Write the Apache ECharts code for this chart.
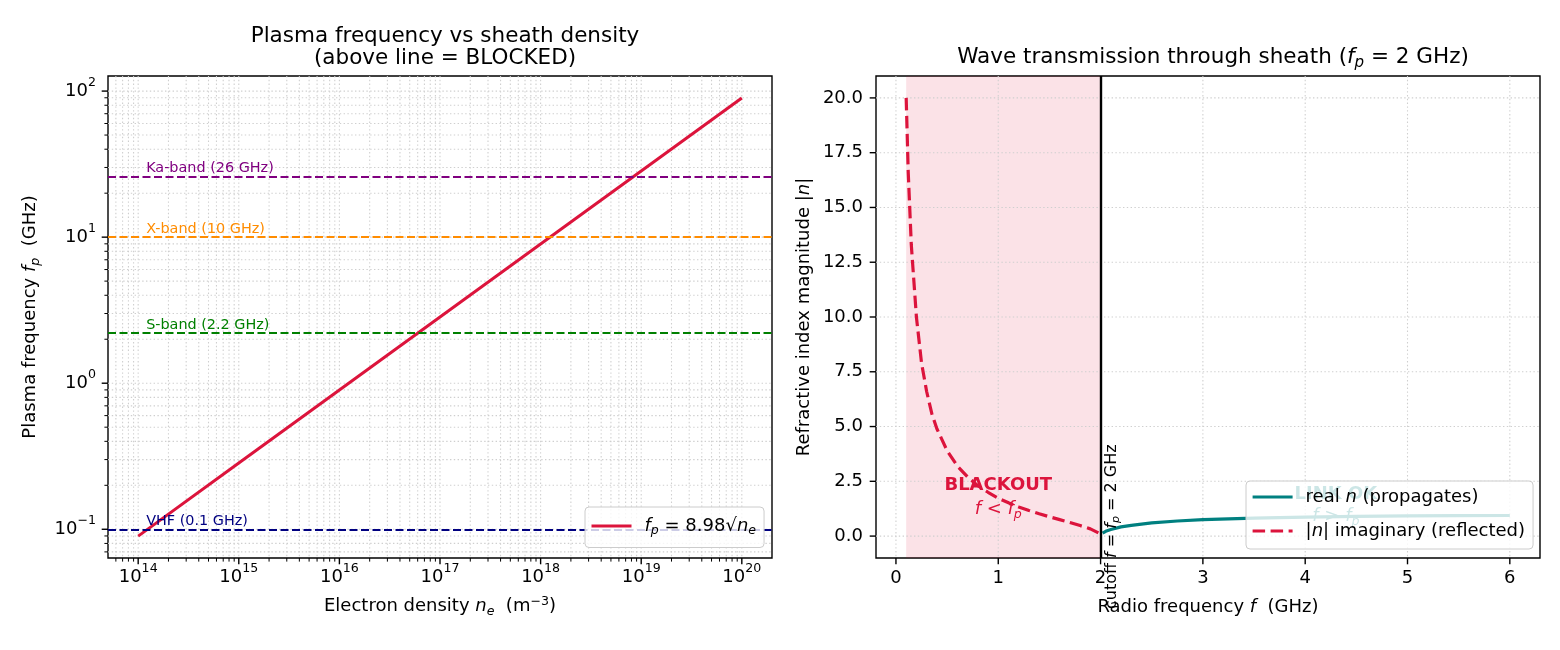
<!DOCTYPE html>
<html>
<head>
<meta charset="utf-8">
<script src="https://cdn.jsdelivr.net/npm/echarts@6.0.0/dist/echarts.min.js"></script>
<style>
html,body{margin:0;padding:0;background:#ffffff;}
#chart{width:1560px;height:650px;}
</style>
</head>
<body>
<div id="chart"></div>
<script>
// ---------------- data ----------------
const densityNe = [1e14, 1e15, 1e16, 1e17, 1e18, 1e19, 1e20];
const plasmaFreqGHz = [0.0898, 0.284, 0.898, 2.84, 8.98, 28.4, 89.8];

const bandNames = ['Ka-band (26 GHz)', 'X-band (10 GHz)', 'S-band (2.2 GHz)', 'VHF (0.1 GHz)'];
const bandFreqGHz = [26, 10, 2.2, 0.1];
const bandColors = ['#800080', '#ff8c00', '#008000', '#000080'];
const bandLabelNe = 1.2e14;

const freqReflected = [0.10, 0.12, 0.15, 0.20, 0.25, 0.30, 0.35, 0.40, 0.50, 0.60, 0.70, 0.80, 0.90, 1.00, 1.10, 1.20, 1.30, 1.40, 1.50, 1.60, 1.70, 1.80, 1.90, 1.98];
const nImaginary    = [20.0, 16.6, 13.3, 10.0, 7.9, 6.6, 5.6, 4.9, 3.9, 3.2, 2.7, 2.3, 2.0, 1.73, 1.52, 1.33, 1.17, 1.02, 0.88, 0.75, 0.62, 0.48, 0.33, 0.14];
const freqPropagating = [2.02, 2.05, 2.10, 2.20, 2.30, 2.50, 2.75, 3.00, 3.50, 4.00, 4.50, 5.00, 5.50, 6.00];
const nReal           = [0.14, 0.22, 0.30, 0.42, 0.49, 0.60, 0.69, 0.75, 0.82, 0.87, 0.90, 0.92, 0.93, 0.94];
const plasmaCutoffGHz = 2;
const blackoutStartGHz = 0.1;

// tick labels
const leftXDecades = [14, 15, 16, 17, 18, 19, 20];
const leftYDecades = [-1, 0, 1, 2];
const rightXTicks = [0, 1, 2, 3, 4, 5, 6];
const rightYTicks = [0, 2.5, 5, 7.5, 10, 12.5, 15, 17.5, 20];

// ---------------- styling ----------------
const FONT = 'DejaVu Sans';
const CRIMSON = '#dc143c';
const TEAL = '#008080';
const GRID_COLOR = '#cfcfcf';

const LX_MIN = Math.pow(10, 13.7), LX_MAX = Math.pow(10, 20.3);
const LY_MIN = Math.pow(10, -1.1967), LY_MAX = Math.pow(10, 2.1033);
const RX_MIN = -0.195, RX_MAX = 6.295;
const RY_MIN = -1, RY_MAX = 21;

function rich(size, color) {
  color = color || '#000';
  const lh = Math.round(size * 1.25);
  return {
    t: {fontSize: size, fontFamily: FONT, color: color, lineHeight: lh},
    b: {fontSize: size, fontFamily: FONT, color: color, lineHeight: lh, fontWeight: 'bold'},
    i: {fontSize: size, fontFamily: FONT, color: color, lineHeight: lh, fontStyle: 'italic'},
    sub: {fontSize: size * 0.7, fontFamily: FONT, color: color, fontStyle: 'italic', lineHeight: Math.round(size * 0.75), verticalAlign: 'bottom'},
    sup: {fontSize: size * 0.7, fontFamily: FONT, color: color, lineHeight: Math.round(size * 0.75), verticalAlign: 'top'},
    sp: {width: 8, lineHeight: lh}
  };
}

function minorValues(d0, d1, lo, hi) {
  const out = [];
  for (let d = d0; d <= d1; d++) for (let k = 2; k <= 9; k++) {
    const v = k * Math.pow(10, d);
    if (v >= lo && v <= hi) out.push(v);
  }
  return out;
}

function logLabel(v) {
  const e = Math.log10(v);
  const r = Math.round(e);
  if (Math.abs(e - r) > 1e-6) return '';
  return '{m|10}{s|' + (r < 0 ? '\u2212' : '') + Math.abs(r) + '}';
}
const logRich = {
  m: {fontSize: 18, fontFamily: FONT, color: '#000', lineHeight: 30},
  s: {fontSize: 12.6, fontFamily: FONT, color: '#000', lineHeight: 14, verticalAlign: 'top'}
};

function tickRenderer(dir) {
  return function (params, api) {
    const cs = params.coordSys;
    const p = api.coord([api.value(0), api.value(1)]);
    const len = api.value(2);
    const drawGrid = api.value(3) > 0;
    const lw = len > 5 ? 1.4 : 1.0;
    const children = [];
    if (dir === 'x') {
      const x = p[0];
      const b = cs.y + cs.height;
      if (drawGrid) children.push({type: 'line', silent: true, shape: {x1: x, y1: cs.y, x2: x, y2: b}, style: {stroke: GRID_COLOR, lineWidth: 1.1, lineDash: [1.4, 2.4]}});
      children.push({type: 'line', silent: true, shape: {x1: x, y1: b, x2: x, y2: b + len}, style: {stroke: '#000', lineWidth: lw}});
    } else {
      const y = p[1];
      const l = cs.x;
      if (drawGrid) children.push({type: 'line', silent: true, shape: {x1: l, y1: y, x2: l + cs.width, y2: y}, style: {stroke: GRID_COLOR, lineWidth: 1.1, lineDash: [1.4, 2.4]}});
      children.push({type: 'line', silent: true, shape: {x1: l - len, y1: y, x2: l, y2: y}, style: {stroke: '#000', lineWidth: lw}});
    }
    return {type: 'group', children: children};
  };
}

function tickSeries(dir, gridIdx, values, cross, len) {
  return {
    type: 'custom', xAxisIndex: gridIdx, yAxisIndex: gridIdx, z: 1, silent: true,
    renderItem: tickRenderer(dir), clip: false,
    encode: {x: 0, y: 1},
    data: values.map(v => dir === 'x' ? [v, cross, len, 1] : [cross, v, len, 1])
  };
}

const leftXMajor = leftXDecades.map(d => Math.pow(10, d));
const leftYMajor = leftYDecades.map(d => Math.pow(10, d));
const leftXMinor = minorValues(13, 20, LX_MIN, LX_MAX);
const leftYMinor = minorValues(-2, 2, LY_MIN, LY_MAX);

const chart = echarts.init(document.getElementById('chart'), null, {renderer: 'canvas'});

const legendCommon = {
  orient: 'vertical', z: 20, zlevel: 0,
  itemWidth: 40, itemHeight: 14,
  backgroundColor: 'rgba(255,255,255,0.8)', borderColor: '#cccccc', borderWidth: 1, borderRadius: 4,
  itemStyle: {opacity: 0, borderWidth: 0},
  textStyle: {fontSize: 18, color: '#000', rich: rich(18)},
  selectedMode: false
};

const option = {
  animation: false,
  backgroundColor: '#ffffff',
  textStyle: {fontFamily: FONT},
  title: [
    {
      text: 'Plasma frequency vs sheath density\n(above line = BLOCKED)',
      left: 440, top: 20, textAlign: 'center',
      textStyle: {fontFamily: FONT, fontSize: 21.5, fontWeight: 'normal', color: '#000', lineHeight: 22}
    },
    {
      text: '{t|Wave transmission through sheath (}{i|f}{sub|p}{t| = 2 GHz)}',
      left: 1208, top: 39, textAlign: 'center',
      textStyle: {fontFamily: FONT, fontSize: 21.5, fontWeight: 'normal', color: '#000', rich: rich(21.5)}
    }
  ],
  grid: [
    {left: 108, top: 76, width: 664, height: 482, show: true, borderColor: '#000', borderWidth: 1.4, backgroundColor: 'transparent'},
    {left: 876, top: 76, width: 664, height: 482, show: true, borderColor: '#000', borderWidth: 1.4, backgroundColor: 'transparent'}
  ],
  xAxis: [
    {
      type: 'log', logBase: 10, gridIndex: 0, min: LX_MIN, max: LX_MAX,
      axisLine: {show: false}, axisTick: {show: false}, splitLine: {show: false}, minorTick: {show: false},
      axisLabel: {formatter: logLabel, rich: logRich, margin: 4, color: '#000'},
      name: '{t|Electron density }{i|n}{sub|e}{t|  (m}{sup|\u22123}{t|)}', nameLocation: 'middle', nameGap: 37,
      nameTextStyle: {rich: rich(18), fontSize: 18, color: '#000'}
    },
    {
      type: 'value', gridIndex: 1, min: RX_MIN, max: RX_MAX,
      axisLine: {show: false}, axisTick: {show: false}, splitLine: {show: false},
      axisLabel: {customValues: rightXTicks, formatter: v => String(v), fontSize: 18, fontFamily: FONT, color: '#000', margin: 10, lineHeight: 20},
      name: '{t|Radio frequency }{i|f}{t|  (GHz)}', nameLocation: 'middle', nameGap: 38,
      nameTextStyle: {rich: rich(18), fontSize: 18, color: '#000'}
    }
  ],
  yAxis: [
    {
      type: 'log', logBase: 10, gridIndex: 0, min: LY_MIN, max: LY_MAX,
      axisLine: {show: false}, axisTick: {show: false}, splitLine: {show: false}, minorTick: {show: false},
      axisLabel: {formatter: logLabel, rich: logRich, margin: 12, color: '#000'},
      name: '{t|Plasma frequency }{i|f}{sub|p}{t|  (GHz)}', nameLocation: 'middle', nameGap: 66, nameRotate: 90,
      nameTextStyle: {rich: rich(18), fontSize: 18, color: '#000'}
    },
    {
      type: 'value', gridIndex: 1, min: RY_MIN, max: RY_MAX,
      axisLine: {show: false}, axisTick: {show: false}, splitLine: {show: false},
      axisLabel: {customValues: rightYTicks, formatter: v => v.toFixed(1), fontSize: 18, fontFamily: FONT, color: '#000', margin: 13},
      name: '{t|Refractive index magnitude |}{i|n}{t||}', nameLocation: 'middle', nameGap: 60, nameRotate: 90,
      nameTextStyle: {rich: rich(18), fontSize: 18, color: '#000'}
    }
  ],
  legend: [
    Object.assign({}, legendCommon, {
      data: ['fp'], left: 585, top: 507, padding: [10, 8, 10, 5],
      lineStyle: {width: 3},
      formatter: () => '{sp|}{i|f}{sub|p}{t| = 8.98\u221a}{i|n}{sub|e}'
    }),
    Object.assign({}, legendCommon, {
      data: ['real', 'imag'], left: 1246, top: 481, itemGap: 16, padding: [7, 8, 9, 5],
      lineStyle: {width: 3.2},
      formatter: name => name === 'real' ? '{sp|}{t|real }{i|n}{t| (propagates)}' : '{sp|}{t||}{i|n}{t|| imaginary (reflected)}'
    })
  ],
  series: [
    // ---- left panel: ticks + grid lines ----
    tickSeries('x', 0, leftXMajor, 1, 6.3),
    tickSeries('x', 0, leftXMinor, 1, 3.6),
    tickSeries('y', 0, leftYMajor, 1e17, 6.3),
    tickSeries('y', 0, leftYMinor, 1e17, 3.6),
    // band reference lines and labels
    {
      name: 'bands', type: 'line', xAxisIndex: 0, yAxisIndex: 0, data: [], z: 2, silent: true,
      markLine: {
        silent: true, symbol: 'none', animation: false,
        label: {show: false},
        data: bandFreqGHz.map((f, i) => ({yAxis: f, lineStyle: {color: bandColors[i], type: [8, 3.5], width: 2.1}}))
      },
      markPoint: {
        silent: true, symbol: 'circle', symbolSize: 0, animation: false,
        data: bandFreqGHz.map((f, i) => ({
          coord: [bandLabelNe, f], itemStyle: {color: 'transparent'},
          label: {show: true, position: 'right', distance: 0, offset: [0, -8], formatter: bandNames[i], color: bandColors[i], fontSize: 14.4, fontFamily: FONT}
        }))
      }
    },
    {
      name: 'fp', type: 'line', xAxisIndex: 0, yAxisIndex: 0, z: 3, silent: true,
      symbol: 'none', showSymbol: false,
      lineStyle: {color: CRIMSON, width: 3},
      itemStyle: {color: CRIMSON},
      data: densityNe.map((n, i) => [n, plasmaFreqGHz[i]])
    },
    // ---- right panel ----
    tickSeries('x', 1, rightXTicks, 10, 6.3),
    tickSeries('y', 1, rightYTicks, 3, 6.3),
    {
      name: 'imag', type: 'line', xAxisIndex: 1, yAxisIndex: 1, z: 3, silent: true,
      symbol: 'none', showSymbol: false,
      lineStyle: {color: CRIMSON, width: 3.2, type: [12.5, 5.5]},
      itemStyle: {color: CRIMSON},
      data: freqReflected.map((f, i) => [f, nImaginary[i]]),
      markArea: {
        silent: true,
        itemStyle: {color: 'rgba(220,20,60,0.12)'},
        data: [[{xAxis: blackoutStartGHz}, {xAxis: plasmaCutoffGHz}]]
      },
      markLine: {
        silent: true, symbol: 'none', animation: false,
        label: {show: false},
        lineStyle: {color: '#000', type: 'solid', width: 2.4},
        data: [{xAxis: plasmaCutoffGHz}]
      },
      markPoint: {
        silent: true, symbol: 'circle', symbolSize: 0, animation: false,
        itemStyle: {color: 'transparent'},
        data: [
          {coord: [1.0, 2.3], label: {show: true, position: 'inside', formatter: 'BLACKOUT', color: CRIMSON, fontWeight: 'bold', fontSize: 18, fontFamily: FONT}},
          {coord: [1.0, 1.2], label: {show: true, position: 'inside', formatter: '{i|f}{t| < }{i|f}{sub|p}', rich: rich(18, CRIMSON)}},
          {coord: [2.107, 0.43], label: {show: true, position: 'inside', rotate: 90, formatter: '{t|cutoff }{i|f}{t| = }{i|f}{sub|p}{t| = 2 GHz}', rich: rich(16, '#000')}}
        ]
      }
    },
    {
      name: 'real', type: 'line', xAxisIndex: 1, yAxisIndex: 1, z: 3, silent: true,
      symbol: 'none', showSymbol: false,
      lineStyle: {color: TEAL, width: 3.2},
      itemStyle: {color: TEAL},
      data: freqPropagating.map((f, i) => [f, nReal[i]]),
      markPoint: {
        silent: true, symbol: 'circle', symbolSize: 0, animation: false,
        itemStyle: {color: 'transparent'},
        data: [
          {coord: [4.3, 1.9], label: {show: true, position: 'inside', formatter: 'LINK OK', color: TEAL, fontWeight: 'bold', fontSize: 18, fontFamily: FONT}},
          {coord: [4.3, 0.9], label: {show: true, position: 'inside', formatter: '{i|f}{t| > }{i|f}{sub|p}', rich: rich(18, TEAL)}}
        ]
      }
    }
  ]
};

chart.setOption(option);
</script>
</body>
</html>
